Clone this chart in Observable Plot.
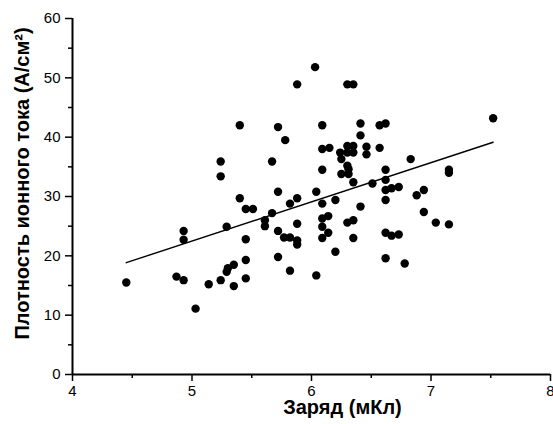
<!DOCTYPE html>
<html><head><meta charset="utf-8">
<script src="https://cdn.jsdelivr.net/npm/d3@7"></script>
<script src="https://cdn.jsdelivr.net/npm/@observablehq/plot@0.6"></script>
<style>
body{margin:0;background:#fff}
</style></head><body><div id="chart"></div>
<script>
// Charge (mC)
const charge = [
  4.45, 4.87, 4.93, 4.93, 4.93, 5.03, 5.14, 5.24, 5.24, 5.24,
  5.29, 5.29, 5.30, 5.35, 5.35, 5.40, 5.40, 5.45, 5.51, 5.45,
  5.45, 5.45, 5.61, 5.61, 5.67, 5.67, 5.72, 5.72, 5.72, 5.72,
  5.78, 5.77, 5.82, 5.82, 5.82, 5.88, 5.88, 5.88, 5.88, 5.88,
  6.03, 6.04, 6.04, 6.09, 6.09, 6.15, 6.09, 6.09, 6.09, 6.14,
  6.09, 6.14, 6.09, 6.20, 6.20, 6.24, 6.25, 6.25, 6.30, 6.35,
  6.30, 6.35, 6.30, 6.35, 6.30, 6.31, 6.31, 6.35, 6.30, 6.35,
  6.35, 6.41, 6.41, 6.41, 6.46, 6.46, 6.51, 6.57, 6.62, 6.57,
  6.62, 6.62, 6.62, 6.67, 6.73, 6.62, 6.62, 6.67, 6.73, 6.62,
  6.78, 6.83, 6.88, 6.94, 6.94, 7.04, 7.15, 7.15, 7.15, 7.52
];
// Ion current density (A/cm2)
const density = [
  15.5, 16.5, 15.9, 22.7, 24.2, 11.1, 15.2, 15.9, 33.4, 35.9,
  24.9, 17.3, 17.9, 18.5, 14.9, 29.7, 42.0, 27.9, 27.9, 22.8,
  19.3, 16.2, 26.0, 25.0, 27.2, 35.9, 41.7, 30.8, 24.2, 19.8,
  39.5, 23.1, 23.1, 28.8, 17.5, 29.7, 25.4, 22.6, 21.9, 48.9,
  51.8, 30.8, 16.7, 42.0, 38.0, 38.2, 34.5, 28.8, 26.3, 26.7,
  24.9, 23.9, 23.0, 29.4, 20.7, 37.4, 36.3, 33.8, 48.9, 48.9,
  38.5, 38.5, 37.4, 37.4, 35.2, 34.6, 33.8, 32.4, 25.6, 26.0,
  23.0, 42.3, 40.3, 28.3, 38.4, 37.1, 32.2, 42.0, 42.3, 38.2,
  34.5, 32.8, 31.1, 31.4, 31.6, 29.4, 23.9, 23.4, 23.6, 19.6,
  18.7, 36.3, 30.2, 31.1, 27.4, 25.6, 25.3, 34.5, 34.0, 43.2
];
// Linear fit line end points
const fitX = [4.45, 7.52];
const fitY = [18.85, 39.15];

const xMajor = [4, 5, 6, 7, 8];
const xMinor = [4.5, 5.5, 6.5, 7.5];
const yMajor = [0, 10, 20, 30, 40, 50, 60];
const yMinor = [5, 15, 25, 35, 45, 55];
const xTitle = "Заряд (мКл)";
const yTitle = "Плотность ионного тока (А/см²)";

const points = charge.map((x, i) => ({x, y: density[i]}));
const fit = fitX.map((x, i) => ({x, y: fitY[i]}));

const chart = Plot.plot({
  width: 553,
  height: 424,
  marginLeft: 72,
  marginRight: 3,
  marginTop: 18,
  marginBottom: 50,
  style: {fontFamily: "'Liberation Sans', Arial, sans-serif", fontSize: "15px", color: "#000", background: "#fff", overflow: "visible"},
  x: {domain: [4, 8]},
  y: {domain: [0, 60]},
  marks: [
    Plot.axisX({ticks: xMinor, tickSize: 4, tickFormat: () => "", label: null, strokeWidth: 1.5}),
    Plot.axisX({ticks: xMajor, tickSize: 7, tickPadding: 4, tickFormat: d => String(d), label: null, strokeWidth: 1.5}),
    Plot.axisY({ticks: yMinor, tickSize: 4, tickFormat: () => "", label: null, strokeWidth: 1.5}),
    Plot.axisY({ticks: yMajor, tickSize: 7, tickPadding: 5, tickFormat: d => String(d), label: null, strokeWidth: 1.5}),
    Plot.ruleX([4], {stroke: "#000", strokeWidth: 2}),
    Plot.ruleY([0], {stroke: "#000", strokeWidth: 2}),
    Plot.line(fit, {x: "x", y: "y", stroke: "#000", strokeWidth: 1.4}),
    Plot.dot(points, {x: "x", y: "y", r: 4.2, fill: "#000", stroke: "none"}),
    Plot.text([xTitle], {frameAnchor: "bottom", text: d => d, textAnchor: "middle", dx: 31, dy: 39, fontWeight: "bold", fontSize: 20, fill: "#000"}),
    Plot.text([yTitle], {frameAnchor: "left", text: d => d, textAnchor: "middle", rotate: -90, dx: -50, dy: -13, fontWeight: "bold", fontSize: 20, fill: "#000"})
  ]
});
document.getElementById("chart").appendChild(chart);
</script>
</body></html>
